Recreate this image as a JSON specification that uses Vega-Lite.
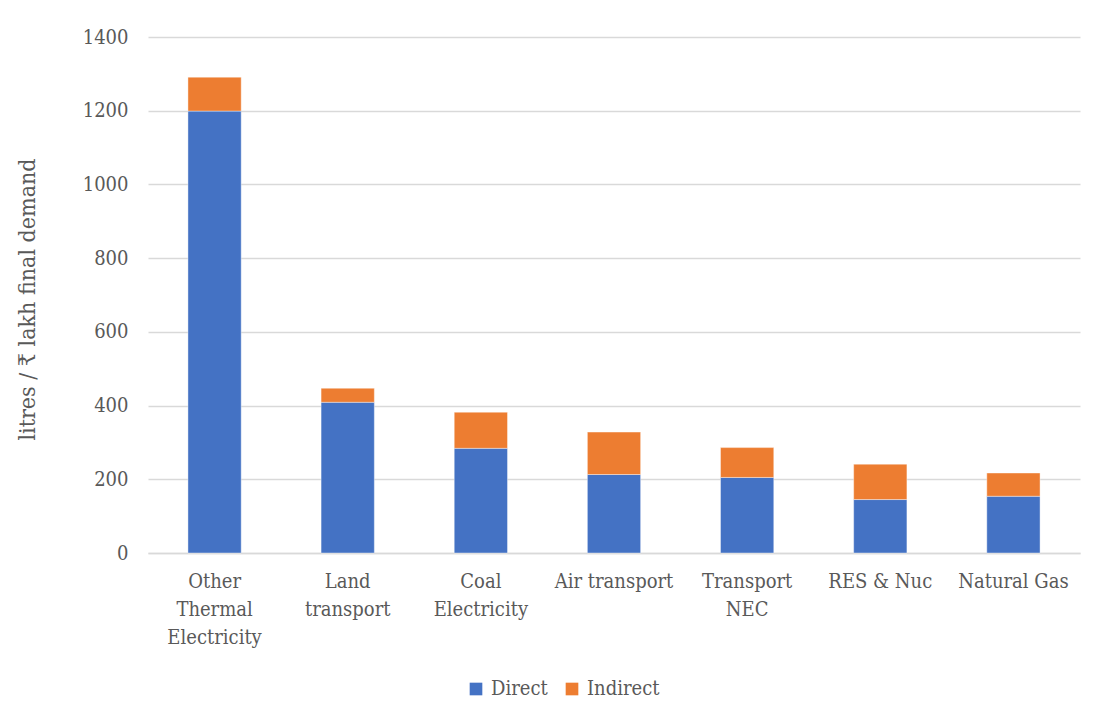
{
  "$schema": "https://vega.github.io/schema/vega-lite/v6.json",
  "autosize": {"type": "none"},
  "width": 932,
  "height": 516,
  "padding": {"left": 148, "top": 37, "right": 21, "bottom": 167},
  "background": "white",
  "config": {
    "view": {"stroke": null},
    "font": "DejaVu Serif Condensed",
    "axis": {"labelFont": "DejaVu Serif Condensed", "titleFont": "DejaVu Serif Condensed", "labelColor": "#595959", "titleColor": "#595959"},
    "legend": {"labelFont": "DejaVu Serif Condensed", "labelColor": "#595959"}
  },
  "data": {
    "values": [
      {"sector": "Other|Thermal|Electricity", "type": "Direct", "value": 1199},
      {"sector": "Other|Thermal|Electricity", "type": "Indirect", "value": 92},
      {"sector": "Land|transport", "type": "Direct", "value": 409},
      {"sector": "Land|transport", "type": "Indirect", "value": 38},
      {"sector": "Coal|Electricity", "type": "Direct", "value": 284},
      {"sector": "Coal|Electricity", "type": "Indirect", "value": 98},
      {"sector": "Air transport", "type": "Direct", "value": 213},
      {"sector": "Air transport", "type": "Indirect", "value": 115},
      {"sector": "Transport|NEC", "type": "Direct", "value": 205},
      {"sector": "Transport|NEC", "type": "Indirect", "value": 81},
      {"sector": "RES & Nuc", "type": "Direct", "value": 145},
      {"sector": "RES & Nuc", "type": "Indirect", "value": 96},
      {"sector": "Natural Gas", "type": "Direct", "value": 154},
      {"sector": "Natural Gas", "type": "Indirect", "value": 63}
    ]
  },
  "mark": {"type": "bar", "stroke": "white", "strokeWidth": 0.8, "strokeOpacity": 0.5},
  "encoding": {
    "x": {
      "field": "sector",
      "type": "nominal",
      "sort": null,
      "scale": {"paddingInner": 0.6, "paddingOuter": 0.3},
      "axis": {
        "title": null,
        "labelAngle": 0,
        "labelExpr": "split(datum.label, '|')",
        "labelFontSize": 20,
        "labelLineHeight": 28,
        "labelPadding": 28,
        "ticks": false,
        "domainColor": "#d9d9d9",
        "domainWidth": 1.5,
        "labelBaseline": "middle"
      }
    },
    "y": {
      "field": "value",
      "type": "quantitative",
      "aggregate": "sum",
      "stack": "zero",
      "scale": {"domain": [0, 1400]},
      "axis": {
        "title": "litres / ₹ lakh final demand",
        "titleFontSize": 23,
        "titleFontWeight": "normal",
        "titlePadding": 43,
        "titleY": 262,
        "labelFontSize": 20,
        "labelPadding": 20,
        "format": "d",
        "ticks": false,
        "domain": false,
        "gridColor": "#d9d9d9",
        "gridWidth": 1.5,
        "values": [0, 200, 400, 600, 800, 1000, 1200, 1400]
      }
    },
    "color": {
      "field": "type",
      "type": "nominal",
      "scale": {"domain": ["Direct", "Indirect"], "range": ["#4472C4", "#ED7D31"]},
      "legend": {
        "title": null,
        "orient": "none",
        "direction": "horizontal",
        "legendX": 318,
        "legendY": 642,
        "symbolType": "square",
        "symbolSize": 160,
        "symbolStrokeWidth": 0,
        "labelFontSize": 20,
        "columnPadding": 14,
        "labelOffset": 5
      }
    },
    "order": {"field": "type", "sort": "ascending"}
  }
}
